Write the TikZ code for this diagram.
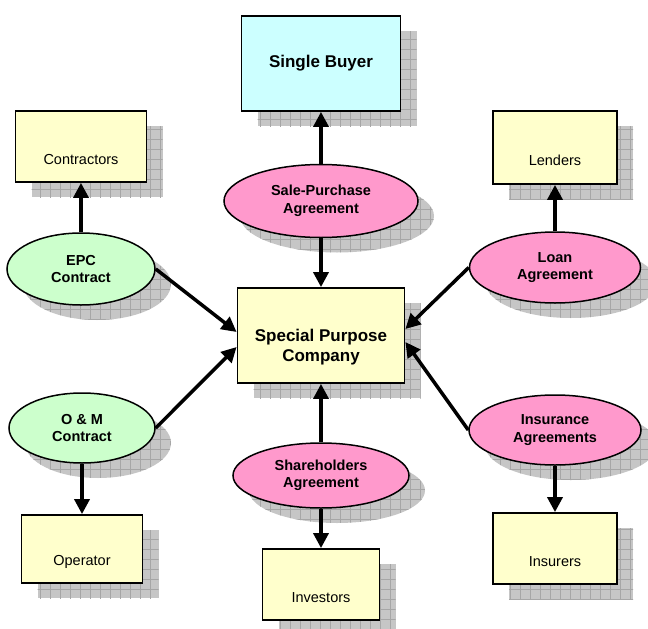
\documentclass[tikz,border=0pt]{standalone}
\usepackage{fontspec}
\setmainfont{Liberation Sans}
\usepackage{tikz}
\usetikzlibrary{arrows.meta,shapes,shadows,patterns.meta}

\definecolor{boxfill}{HTML}{FFFFCC}
\definecolor{buyerfill}{HTML}{CCFFFF}
\definecolor{pinkfill}{HTML}{FF99CC}
\definecolor{greenfill}{HTML}{CCFFCC}

\begin{document}
\begin{tikzpicture}[x=1pt,y=-1pt]
  \useasboundingbox (0,0) rectangle (648,629);
  \tikzset{ShadowStyle/.style={general shadow={shadow xshift=16pt,shadow yshift=-15pt,draw=none,fill=gray!45},
    general shadow={shadow xshift=16pt,shadow yshift=-15pt,draw=none,pattern={Hatch[distance=10pt,line width=0.5pt]},pattern color=gray!70}}}
  \tikzset{BoxStyle/.style={draw,line width=1.8pt,fill=#1,inner sep=0pt,ShadowStyle}}
  \tikzset{OvalStyle/.style={ellipse,draw,line width=1.5pt,fill=#1,inner sep=0pt,align=center,ShadowStyle,font=\fontsize{14.5}{17.5}\selectfont\bfseries}}
  \tikzset{BigText/.style={font=\fontsize{17}{20}\selectfont\bfseries,align=center}}
  \tikzset{LabelStyle/.style={font=\fontsize{14.5}{17}\selectfont,yshift=-13pt}}
  \tikzstyle{EdgeStyle}=[line width=3.5pt,-{Triangle[length=15pt,width=15pt]}]

  % boxes
  \node[BoxStyle=buyerfill,minimum width=159pt,minimum height=95pt,BigText] (buyer) at (321,63.5) {Single Buyer};
  \node[BoxStyle=boxfill,minimum width=131pt,minimum height=71pt,label={[LabelStyle]center:Contractors}] (contractors) at (81,146.5) {};
  \node[BoxStyle=boxfill,minimum width=124pt,minimum height=73pt,label={[LabelStyle]center:Lenders}] (lenders) at (555,147.5) {};
  \node[BoxStyle=boxfill,minimum width=167pt,minimum height=95pt,label={[LabelStyle,BigText,yshift=1pt]center:Special Purpose\\Company}] (spc) at (321,335.5) {};
  \node[BoxStyle=boxfill,minimum width=121pt,minimum height=68pt,label={[LabelStyle]center:Operator}] (operator) at (82,549) {};
  \node[BoxStyle=boxfill,minimum width=117pt,minimum height=71pt,label={[LabelStyle]center:Investors}] (investors) at (321,584.5) {};
  \node[BoxStyle=boxfill,minimum width=124pt,minimum height=71pt,label={[LabelStyle]center:Insurers}] (insurers) at (555,548.5) {};

  % agreements
  \node[OvalStyle=pinkfill,minimum width=194pt,minimum height=73pt] (sale) at (321,201) {Sale-Purchase\\Agreement};
  \node[OvalStyle=greenfill,minimum width=148pt,minimum height=72pt] (epc) at (81,269) {EPC\\Contract};
  \node[OvalStyle=greenfill,minimum width=146pt,minimum height=70pt] (om) at (82,428) {O \& M\\Contract};
  \node[OvalStyle=pinkfill,minimum width=171pt,minimum height=71pt] (loan) at (555,267.5) {Loan\\Agreement};
  \node[OvalStyle=pinkfill,minimum width=172pt,minimum height=70pt] (ins) at (555,430) {Insurance\\Agreements};
  \node[OvalStyle=pinkfill,minimum width=176pt,minimum height=65pt] (share) at (321,475.5) {Shareholders\\Agreement};

  % connectors
  \draw[EdgeStyle] (sale) -- (buyer);
  \draw[EdgeStyle] (sale) -- (spc);
  \draw[EdgeStyle] (epc) -- (contractors);
  \draw[EdgeStyle] (epc.east) -- ([yshift=3.5pt]spc.west);
  \draw[EdgeStyle] (om) -- (operator);
  \draw[EdgeStyle] (om.east) -- ([yshift=-11.5pt]spc.west);
  \draw[EdgeStyle] (loan) -- (lenders);
  \draw[EdgeStyle] (loan.west) -- ([yshift=6.5pt]spc.east);
  \draw[EdgeStyle] (ins) -- (insurers);
  \draw[EdgeStyle] (ins.west) -- ([yshift=-6.5pt]spc.east);
  \draw[EdgeStyle] (share) -- (spc);
  \draw[EdgeStyle] (share) -- (investors);
\end{tikzpicture}
\end{document}
